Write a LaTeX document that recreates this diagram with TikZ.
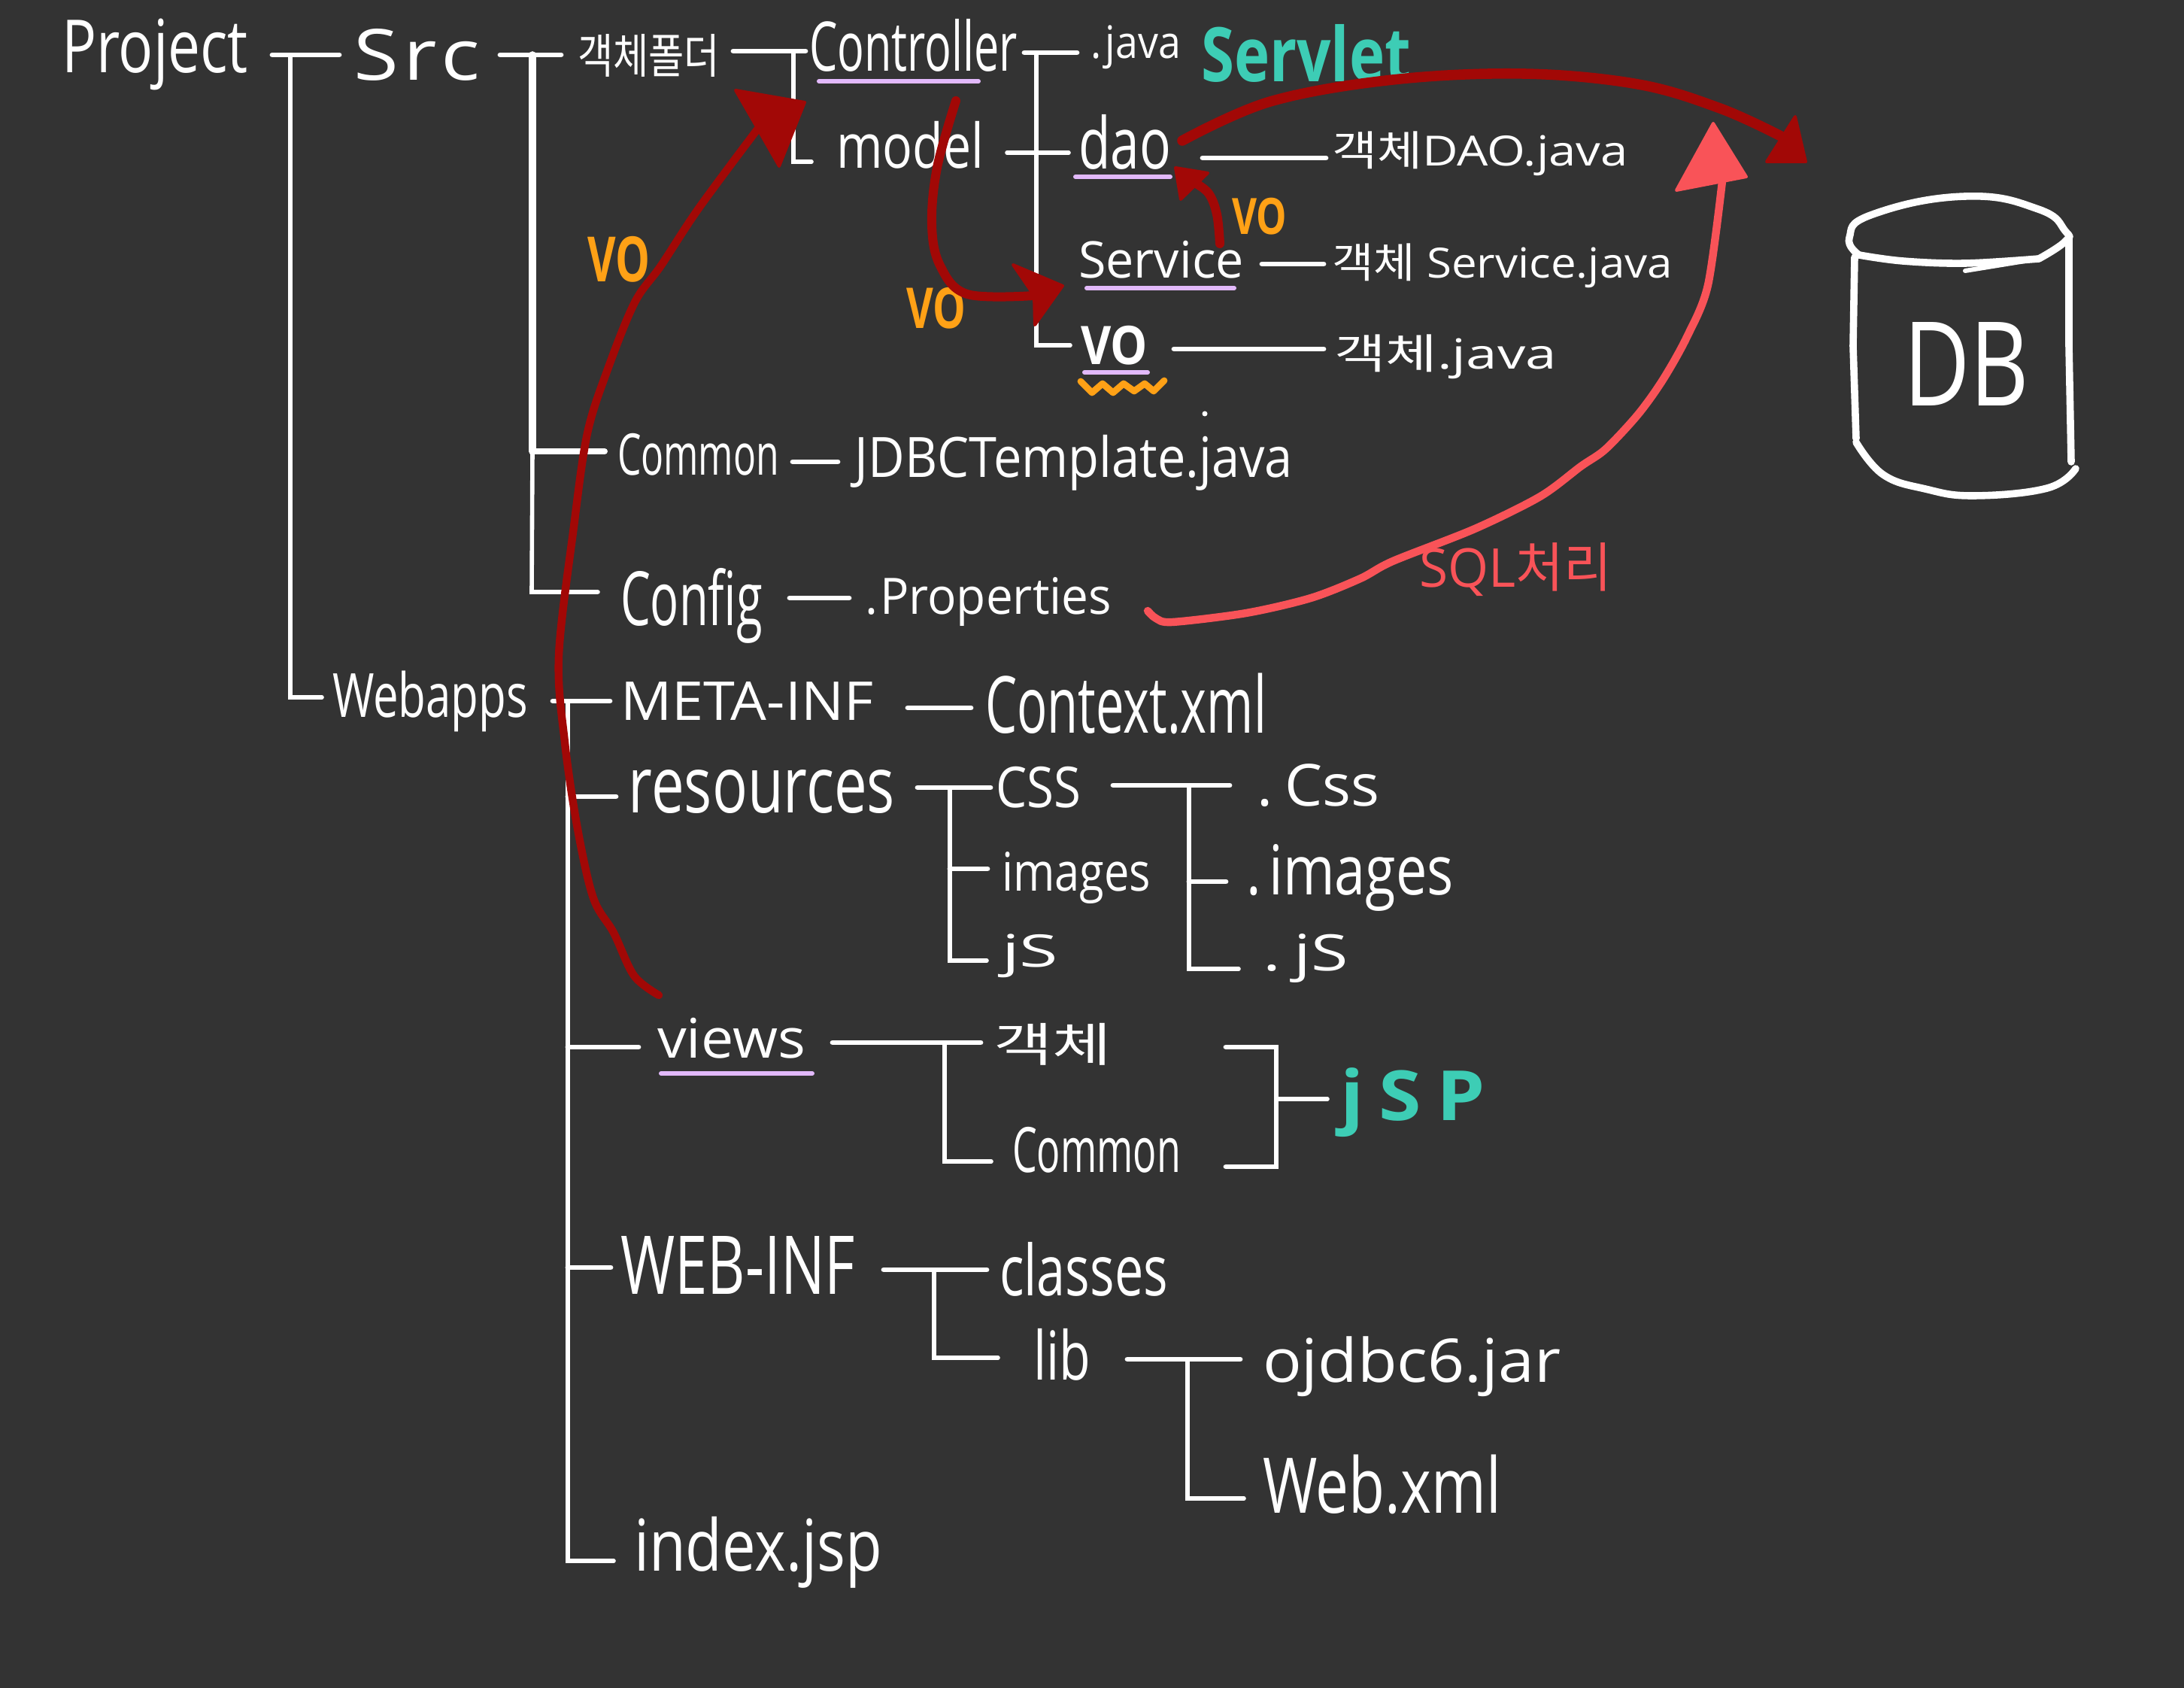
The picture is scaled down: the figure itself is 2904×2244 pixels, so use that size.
\documentclass[tikz,border=0pt]{standalone}
\usepackage{fontspec}
\usepackage{graphicx}
\setmainfont{Open Sans}
\newfontfamily\cjk{Noto Sans CJK KR}
\definecolor{bgc}{HTML}{333333}
\definecolor{arrowred}{HTML}{A20806}
\definecolor{sqlred}{HTML}{F95358}
\definecolor{voorange}{HTML}{FFA116}
\definecolor{tealc}{HTML}{3DCDB5}
\definecolor{purplec}{HTML}{E2B9FB}
\tikzset{
  lbl/.style={inner sep=0pt,outer sep=0pt,text=white,font=\fontsize{20}{24}\selectfont},
  teal lbl/.style={lbl,text=tealc,font=\fontsize{20}{24}\selectfont\bfseries},
  vo lbl/.style={lbl,text=voorange,font=\fontsize{20}{24}\selectfont\bfseries},
  sql lbl/.style={lbl,text=sqlred,font=\fontsize{20}{24}\selectfont},
  strong lbl/.style={lbl,font=\fontsize{20}{24}\selectfont\bfseries},
  wire/.style={draw=white,line width=1.7pt,line cap=round,line join=miter},
  thinwire/.style={draw=white,line width=1.4pt,line cap=round,line join=miter},
  under/.style={draw=purplec,line width=1.5pt,line cap=round},
  redline/.style={draw=arrowred,line width=3pt,line cap=round,line join=round},
  redhead/.style={fill=arrowred,draw=arrowred,line width=1pt,line join=round},
  sqlline/.style={draw=sqlred,line width=2.6pt,line cap=round,line join=round},
  sqlhead/.style={fill=sqlred,draw=sqlred,line width=1pt,line join=round},
  dbline/.style={draw=white,line width=2.4pt,line cap=round,line join=round},
}
% name, x1, y1, x2, y2, style, text: the text is fitted to the box
\newcommand\tbox[7]{%
  \pgfmathsetmacro\tw{(#4-#2)*0.25}%
  \pgfmathsetmacro\th{(#5-#3)*0.25}%
  \node[#6] (#1) at ({(#2+#4)/2},{(#3+#5)/2}) {\resizebox*{\tw pt}{\th pt}{#7}};%
}
\begin{document}
\begin{tikzpicture}[x=0.25pt,y=-0.25pt]
\fill[bgc] (0,0) rectangle (2904,2244);
\useasboundingbox (0,0) rectangle (2904,2244);

% labels
\tbox{project}{82}{25}{330}{120}{lbl}{Project}
\tbox{src}{471}{38}{638}{107}{lbl}{S\kern1pt r\kern1pt c}
\tbox{folder}{768}{45}{957}{102}{lbl}{\cjk 객체폴더}
\tbox{controller}{1076}{25}{1353}{95}{lbl}{Controller}
\tbox{model}{1112}{161}{1308}{224}{lbl}{model}
\tbox{common}{821}{576}{1036}{632}{lbl}{Common}
\tbox{jdbc}{1137}{578}{1719}{652}{lbl}{JDBCTemplate.java}
\tbox{djava}{1450}{34}{1570}{92}{lbl}{.\kern2pt java}
\tbox{servlet}{1597}{32}{1876}{109}{teal lbl}{Servlet}
\tbox{dao}{1434}{152}{1557}{225}{lbl}{dao}
\tbox{daojava}{1771}{175}{2165}{234}{lbl}{{\cjk 객체}DAO.java}
\tbox{service}{1434}{320}{1654}{370}{lbl}{Service}
\tbox{svcjava}{1771}{324}{2224}{383}{lbl}{{\cjk 객체} Service.java}
\tbox{vo}{1437}{433}{1526}{485}{strong lbl}{VO}
\tbox{vojava}{1774}{445}{2070}{504}{lbl}{{\cjk 객체}.java}
\tbox{voa}{1638}{263}{1711}{312}{vo lbl}{VO}
\tbox{vob}{781}{314}{864}{375}{vo lbl}{VO}
\tbox{voc}{1205}{382}{1284}{437}{vo lbl}{VO}
\tbox{db}{2531}{429}{2698}{540}{lbl}{DB}
\tbox{sql}{1887}{722}{2143}{793}{sql lbl}{SQL{\cjk 처리}}
\tbox{props}{1150}{768}{1478}{833}{lbl}{.\kern1pt Properties}
\tbox{config}{825}{755}{1014}{855}{lbl}{Config}
\tbox{webapps}{442}{892}{702}{973}{lbl}{Webapps}
\tbox{meta}{825}{907}{1161}{958}{lbl}{META-INF}
\tbox{context}{1310}{895}{1684}{976}{lbl}{Context.xml}
\tbox{resources}{836}{1024}{1190}{1082}{lbl}{resources}
\tbox{css}{1324}{1019}{1437}{1074}{lbl}{CSS}
\tbox{dcss}{1671}{1016}{1834}{1073}{lbl}{.\kern4pt Css}
\tbox{images}{1332}{1133}{1530}{1202}{lbl}{images}
\tbox{dimages}{1657}{1122}{1933}{1211}{lbl}{.\kern3pt images}
\tbox{js}{1332}{1242}{1407}{1300}{lbl}{jS}
\tbox{djs}{1679}{1242}{1793}{1307}{lbl}{.\kern4pt jS}
\tbox{views}{874}{1353}{1071}{1407}{lbl}{views}
\tbox{vobj}{1321}{1360}{1478}{1416}{lbl}{\cjk 객체}
\tbox{vcommon}{1346}{1498}{1570}{1559}{lbl}{Common}
\tbox{jsp}{1782}{1420}{1975}{1512}{teal lbl}{j\kern4pt S\kern4pt P}
\tbox{webinf}{825}{1644}{1137}{1721}{lbl}{WEB-INF}
\tbox{classes}{1329}{1651}{1553}{1723}{lbl}{classes}
\tbox{lib}{1374}{1766}{1450}{1835}{lbl}{lib}
\tbox{ojdbc}{1679}{1777}{2075}{1857}{lbl}{ojdbc6.jar}
\tbox{webxml}{1679}{1934}{1996}{2013}{lbl}{Web.xml}
\tbox{index}{843}{2016}{1173}{2111}{lbl}{index.jsp}
\fill[white] (1602,550) circle (3.5) node (strayDot) {};

% junction points
\foreach \n/\x/\y in {
 pa/362/73,pb/451/73,pc/386/73,pd/386/927,pe/428/927,
 sa/665/73,sb/746/73,sc/708/73,sd/708/600,se/804/600,sf/707/787,sg/795/787,
 fa/975/68,fb/1071/68,fc/1055/68,fd/1055/215,fe/1079/215,
 ja/1362/70,jb/1432/70,jc/1378/70,jd/1378/459,je/1423/459,ma/1339/203,mb/1421/203,
 da/1599/210,db2/1763/210,va/1678/351,vb/1760/351,oa/1561/464,ob/1760/464,
 ca/1054/614,cb/1114/614,ga/1050/795,gb/1129/795,
 wa/735/932,wb/811/932,wc/755/932,wd/755/2075,we/816/2075,
 ta/1207/941,tb/1291/941,ra/755/1059,rb/819/1059,
 rc/1220/1047,rd/1317/1047,re/1263/1047,rf/1263/1277,rg/1312/1277,rh/1263/1155,ri/1313/1155,
 xa/1480/1044,xb/1635/1044,xc/1581/1044,xd/1581/1288,xe/1647/1288,xf/1581/1172,xg/1630/1172,
 ya/755/1392,yb/849/1392,yc/1107/1386,yd/1304/1386,ye/1256/1386,yf/1256/1544,yg/1318/1544,
 ba/1630/1392,bb/1697/1392,bc/1697/1551,bd/1630/1551,be/1697/1461,bf/1765/1461,
 na/755/1685,nb/812/1685,nc/1175/1688,nd/1312/1688,ne/1242/1688,nf/1242/1805,ng/1327/1805,
 la/1499/1807,lb/1649/1807,lc/1579/1807,ld/1579/1992,le/1654/1992,
 ua/1089/108,ub/1301/108,uc/1430/235,ud/1556/235,ue/1445/383,uf/1641/383,
 ug/1442/495,uh/1526/495,ui/879/1427,uj/1080/1427}
 {\coordinate (\n) at (\x,\y);}

% tree
\draw[wire] (pa) -- (pb);
\draw[thinwire] (pc) -- (pd) -- (pe);
\draw[wire] (sa) -- (sb);
\draw[wire,line width=2.4pt] (sc) -- (sd);
\draw[wire,line width=2pt] (sd) -- (se);
\draw[thinwire] (sd) -- (sf) -- (sg);
\draw[wire] (fa) -- (fb);
\draw[thinwire] (fc) -- (fd) -- (fe);
\draw[wire] (ja) -- (jb);
\draw[thinwire] (jc) -- (jd) -- (je);
\draw[thinwire] (ma) -- (mb);
\draw[wire] (da) -- (db2);
\draw[wire] (va) -- (vb);
\draw[wire] (oa) -- (ob);
\draw[wire] (ca) -- (cb);
\draw[wire] (ga) -- (gb);
\draw[wire] (wa) -- (wb);
\draw[thinwire] (wc) -- (wd) -- (we);
\draw[wire] (ta) -- (tb);
\draw[wire] (ra) -- (rb);
\draw[wire] (rc) -- (rd);
\draw[thinwire] (re) -- (rf) -- (rg);
\draw[wire] (rh) -- (ri);
\draw[wire] (xa) -- (xb);
\draw[thinwire] (xc) -- (xd) -- (xe);
\draw[wire] (xf) -- (xg);
\draw[wire] (ya) -- (yb);
\draw[wire] (yc) -- (yd);
\draw[thinwire] (ye) -- (yf) -- (yg);
\draw[wire] (ba) -- (bb) -- (bc) -- (bd);
\draw[thinwire] (be) -- (bf);
\draw[wire] (na) -- (nb);
\draw[wire] (nc) -- (nd);
\draw[thinwire] (ne) -- (nf) -- (ng);
\draw[wire] (la) -- (lb);
\draw[thinwire] (lc) -- (ld) -- (le);

% underlines
\draw[under] (ua) -- (ub);
\draw[under] (uc) -- (ud);
\draw[under] (ue) -- (uf);
\draw[under] (ug) -- (uh);
\draw[under] (ui) -- (uj);
\draw[draw=voorange,line width=2.2pt,line cap=round,line join=round]
  (1437,507) -- (1452,522) -- (1466,510) -- (1480,522) -- (1494,510) -- (1508,520) -- (1522,510) -- (1534,520) -- (1548,506);

% database
\draw[dbline] plot[smooth,tension=0.8] coordinates {(2472,339) (2459,316) (2490,285) (2613,261) (2710,278) (2746,307) (2746,321) (2711,344)};
\draw[dbline] plot[smooth,tension=0.6] coordinates {(2472,339) (2530,347) (2613,350) (2711,344)};
\draw[dbline,line width=1.5pt] (2613,360) -- (2705,345);
\draw[dbline] (2466,342) -- (2464,460) -- (2468,583);
\draw[dbline] (2751,316) -- (2751,460) -- (2754,614);
\draw[dbline] plot[smooth,tension=0.7] coordinates {(2468,588) (2504,631) (2560,650) (2624,659) (2722,649) (2760,623)};

% arrows
\coordinate (viewsOut) at (876,1323);
\coordinate (modelIn) at (1007,172);
\draw[redline,line width=2.6pt] plot[smooth,tension=0.55] coordinates {(viewsOut) (843,1297) (816,1240) (789,1194) (768,1102) (751,987) (743,872) (763,700) (781,576) (808,491) (844,402) (879,353) (929,277) (modelIn)};
\fill[redhead] (978,120) -- (1070,136) -- (1036,221) -- (1008,172) -- cycle;

\coordinate (ctrlOut) at (1271,134);
\coordinate (serviceIn) at (1375,393);
\draw[redline] plot[smooth,tension=0.6] coordinates {(ctrlOut) (1246,223) (1239,299) (1250,353) (1286,391) (serviceIn)};
\fill[redhead] (1347,352) -- (1413,380) -- (1376,432) -- (1375,393) -- cycle;

\coordinate (daoOut) at (1572,187);
\coordinate (dbIn) at (2368,181);
\draw[redline,line width=3.4pt] plot[smooth,tension=0.6] coordinates {(daoOut) (1689,135) (1852,106) (2026,98) (2178,112) (2287,144) (dbIn)};
\fill[redhead] (2387,155) -- (2401,215) -- (2349,215) -- cycle;

\coordinate (svcOut) at (1622,324);
\coordinate (daoIn) at (1587,242);
\draw[redline] plot[smooth,tension=0.6] coordinates {(svcOut) (1618,285) (1607,257) (daoIn)};
\fill[redhead] (1563,223) -- (1606,230) -- (1570,265) -- cycle;

\coordinate (propOut) at (1526,812);
\coordinate (sqlIn) at (2290,241);
\draw[sqlline] plot[smooth,tension=0.5] coordinates {(propOut) (1537,822) (1559,827) (1657,815) (1743,795) (1809,769) (1852,746) (1961,703) (2048,660) (2102,620) (2135,597) (2178,551) (2211,505) (2243,448) (2271,379) (sqlIn)};
\fill[sqlhead] (2278,164) -- (2322,235) -- (2229,253) -- cycle;
\end{tikzpicture}
\end{document}
